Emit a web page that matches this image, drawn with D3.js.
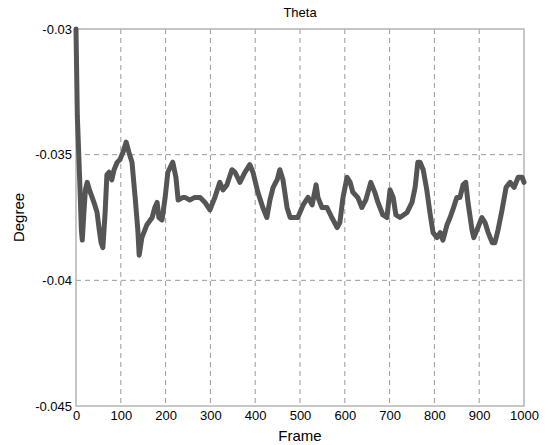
<!DOCTYPE html>
<html>
<head>
<meta charset="utf-8">
<script src="https://cdn.jsdelivr.net/npm/d3@7"></script>
<style>
  body { margin: 0; background: #fff; }
  svg { font-family: "Liberation Sans", Arial, Helvetica, sans-serif; }
  .grid line { stroke: #9a9a9a; stroke-dasharray: 5,4; }
  .axis text { font-size: 13px; fill: #000; }
</style>
</head>
<body>
<div class="container"></div>
<script>
// data
var frames = [0, 3, 6, 9, 12, 14, 18, 21, 25, 30, 36, 42, 47, 52, 56, 60, 65, 69, 74, 80,
  85, 92, 98, 105, 112, 118, 125, 132, 138, 141, 147, 158, 170, 176, 181, 185, 192, 199, 205, 216,
  223, 228, 239, 243, 254, 265, 277, 288, 299, 310, 321, 328, 337, 348, 355, 366, 377, 388, 395, 406,
  417, 426, 433, 440, 449, 455, 462, 471, 478, 489, 495, 507, 518, 527, 536, 540, 549, 560, 571, 583,
  589, 596, 605, 612, 618, 629, 638, 647, 658, 667, 674, 685, 694, 701, 708, 714, 723, 739, 750, 757,
  763, 768, 775, 783, 790, 797, 806, 813, 819, 828, 835, 841, 850, 857, 864, 870, 875, 884, 888, 895,
  906, 913, 920, 929, 935, 942, 951, 960, 969, 978, 987, 996, 1000];
var theta = [-0.0300, -0.0335, -0.0349, -0.0364, -0.0380, -0.0384, -0.0372, -0.0364, -0.0361, -0.0364,
  -0.0367, -0.0370, -0.0373, -0.0380, -0.0385, -0.0387, -0.0373, -0.0358, -0.0357, -0.0360,
  -0.0356, -0.0353, -0.0352, -0.0349, -0.0345, -0.0349, -0.0353, -0.0367, -0.0380, -0.0390,
  -0.0383, -0.0378, -0.0375, -0.0371, -0.0369, -0.0375, -0.0376, -0.0367, -0.0357, -0.0353,
  -0.0359, -0.0368, -0.0367, -0.0367, -0.0368, -0.0367, -0.0367, -0.0369, -0.0372, -0.0367,
  -0.0361, -0.0364, -0.0362, -0.0356, -0.0357, -0.0361, -0.0357, -0.0354, -0.0357, -0.0365,
  -0.0371, -0.0375, -0.0368, -0.0363, -0.0360, -0.0356, -0.0360, -0.0371, -0.0375, -0.0375,
  -0.0375, -0.0370, -0.0367, -0.0370, -0.0362, -0.0367, -0.0371, -0.0371, -0.0375, -0.0379,
  -0.0377, -0.0367, -0.0359, -0.0361, -0.0365, -0.0367, -0.0371, -0.0368, -0.0361, -0.0365,
  -0.0369, -0.0374, -0.0375, -0.0364, -0.0367, -0.0374, -0.0375, -0.0373, -0.0369, -0.0363,
  -0.0353, -0.0353, -0.0356, -0.0364, -0.0373, -0.0381, -0.0383, -0.0381, -0.0384, -0.0378,
  -0.0375, -0.0372, -0.0367, -0.0367, -0.0362, -0.0361, -0.0369, -0.0380, -0.0383, -0.0380,
  -0.0375, -0.0377, -0.0381, -0.0385, -0.0385, -0.0380, -0.0372, -0.0363, -0.0361, -0.0363,
  -0.0359, -0.0359, -0.0361];
var xTicks = [0, 100, 200, 300, 400, 500, 600, 700, 800, 900, 1000];
var yTicks = [-0.03, -0.035, -0.04, -0.045];

var margin = { top: 29, right: 26, bottom: 39, left: 76 };
var width = 550 - margin.left - margin.right;
var height = 445 - margin.top - margin.bottom;

var svg = d3.select(".container")
    .append("svg")
        .attr("width", 550)
        .attr("height", 445)
    .append("g")
        .attr("transform", "translate(" + margin.left + "," + margin.top + ")");

var x = d3.scaleLinear().domain([0, 1000]).range([0, width]);
var y = d3.scaleLinear().domain([-0.045, -0.03]).range([height, 0]);

// dashed grid
svg.append("g").attr("class", "grid")
    .selectAll("line")
    .data(xTicks.slice(1, -1))
    .enter().append("line")
        .attr("x1", d => x(d)).attr("x2", d => x(d))
        .attr("y1", 0).attr("y2", height);

svg.append("g").attr("class", "grid")
    .selectAll("line")
    .data(yTicks.slice(1, -1))
    .enter().append("line")
        .attr("x1", 0).attr("x2", width)
        .attr("y1", d => y(d)).attr("y2", d => y(d));

// frame
svg.append("rect")
    .attr("width", width).attr("height", height)
    .attr("fill", "none")
    .attr("stroke", "#b4b4b4")
    .attr("stroke-width", 1.5);

// axes
var xAxis = svg.append("g")
    .attr("class", "axis")
    .attr("transform", "translate(0," + height + ")")
    .call(d3.axisBottom(x).tickValues(xTicks).tickSize(0).tickPadding(5).tickFormat(d3.format("d")));
xAxis.select(".domain").remove();

var yAxis = svg.append("g")
    .attr("class", "axis")
    .call(d3.axisLeft(y).tickValues(yTicks).tickSize(0).tickPadding(4).tickFormat(d => d3.format("")(d)));
yAxis.select(".domain").remove();
yAxis.selectAll("text").text(d => String(d));

// line
var pts = frames.map((f, i) => [f, theta[i]]);
var line = d3.line().x(d => x(d[0])).y(d => y(d[1]));

svg.append("path")
    .datum(pts)
    .attr("d", line)
    .attr("fill", "none")
    .attr("stroke", "#555555")
    .attr("stroke-width", 5)
    .attr("stroke-linejoin", "round")
    .attr("stroke-linecap", "round");

// labels
svg.append("text")
    .attr("x", width / 2).attr("y", -12)
    .attr("text-anchor", "middle")
    .attr("font-size", "13px")
    .text("Theta");

svg.append("text")
    .attr("x", width / 2).attr("y", height + 35)
    .attr("text-anchor", "middle")
    .attr("font-size", "15px")
    .text("Frame");

svg.append("text")
    .attr("transform", "translate(" + (-52) + "," + (height / 2) + ") rotate(-90)")
    .attr("text-anchor", "middle")
    .attr("font-size", "15px")
    .text("Degree");
</script>
</body>
</html>
